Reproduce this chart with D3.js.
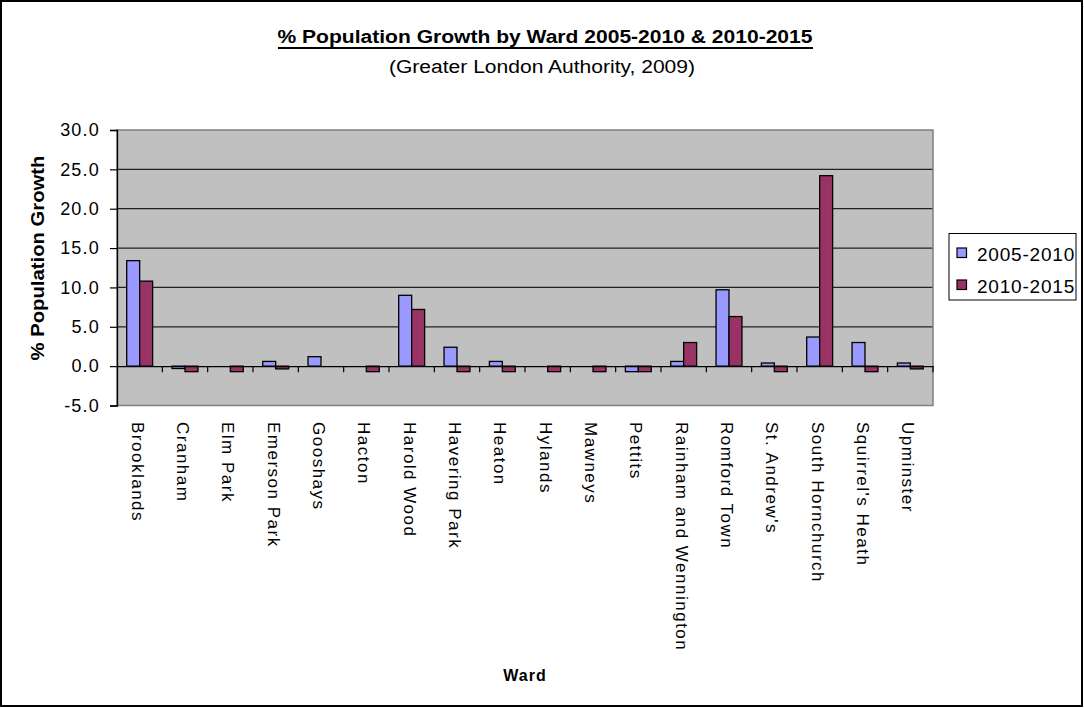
<!DOCTYPE html>
<html><head><meta charset="utf-8">
<script src="https://cdn.jsdelivr.net/npm/d3@7"></script>
<style>
html,body{margin:0;padding:0;background:#fff;}
svg{display:block;font-family:"Liberation Sans",Arial,sans-serif;}
</style></head>
<body>
<svg id="c" width="1084" height="708"></svg>
<script>
const categories = ["Brooklands","Cranham","Elm Park","Emerson Park","Gooshays","Hacton","Harold Wood","Havering Park","Heaton","Hylands","Mawneys","Pettits","Rainham and Wennington","Romford Town","St. Andrew's","South Hornchurch","Squirrel's Heath","Upminster"];
const seriesNames = ["2005-2010","2010-2015"];
const growth2005_2010 = [13.4,-0.3,0,0.6,1.2,0,9.0,2.4,0.6,0,0,-0.7,0.6,9.7,0.4,3.7,3.0,0.4];
const growth2010_2015 = [10.8,-0.7,-0.7,-0.35,0,-0.7,7.2,-0.7,-0.7,-0.7,-0.7,-0.7,3.0,6.3,-0.7,24.2,-0.7,-0.35];
const yTicks = [-5,0,5,10,15,20,25,30];
const colors = ["#9999FF","#993366"];

const svg = d3.select("#c");
const L=117, R=933, T=130, B=405.5;

// outer frame
svg.append("rect").attr("x",1).attr("y",1).attr("width",1081).attr("height",705)
  .attr("fill","#fff").attr("stroke","#000").attr("stroke-width",2);

const x0 = d3.scaleBand().domain(categories).range([L,R]).padding(0);
const x1 = d3.scaleBand().domain(seriesNames).range([0,x0.bandwidth()]).paddingInner(0).paddingOuter(0.75);
const y = d3.scaleLinear().domain([-5,30]).range([B,T]);

// plot area
svg.append("rect").attr("x",L).attr("y",T).attr("width",R-L).attr("height",B-T)
  .attr("fill","#C0C0C0");
// gridlines
svg.append("g").selectAll("line").data(yTicks.filter(v=>v!==-5 && v!==30 && v!==0)).join("line")
  .attr("x1",L).attr("x2",R).attr("y1",d=>y(d)).attr("y2",d=>y(d))
  .attr("stroke","#222").attr("stroke-width",1.2);
svg.append("rect").attr("x",L).attr("y",T).attr("width",R-L).attr("height",B-T)
  .attr("fill","none").attr("stroke","#808080").attr("stroke-width",1.5);

// bars
const data = categories.map((c,i)=>({c, vals:[growth2005_2010[i],growth2010_2015[i]]}));
const g = svg.append("g");
data.forEach(d=>{
  d.vals.forEach((v,j)=>{
    const s = seriesNames[j];
    g.append("rect")
      .attr("x",x0(d.c)+x1(s)).attr("width",x1.bandwidth())
      .attr("y",y(Math.max(0,v))).attr("height",Math.abs(y(v)-y(0)))
      .attr("fill",colors[j]).attr("stroke","#000").attr("stroke-width",1.3);
  });
});

// y axis
const yAxis = d3.axisLeft(y).tickValues(yTicks).tickFormat(d=>d.toFixed(1)).tickSize(7).tickPadding(10);
const ya = svg.append("g").attr("transform",`translate(${L},0)`).call(yAxis);
ya.select(".domain").attr("stroke","#000").attr("stroke-width",1.3);
ya.selectAll(".tick line").attr("stroke","#000").attr("stroke-width",1.2);
ya.selectAll(".tick text").attr("font-size",18).attr("fill","#000").attr("letter-spacing","1.2px")
  .attr("font-family","Liberation Sans, Arial, sans-serif");

// x axis at zero
const xAxis = d3.axisBottom(x0).tickSize(0).tickFormat("");
const xa = svg.append("g").attr("transform",`translate(0,${y(0)})`).call(xAxis);
xa.select(".domain").attr("stroke","#000").attr("stroke-width",1.3);
// category boundary ticks
svg.append("g").selectAll("line").data(categories.slice(1)).join("line")
  .attr("x1",d=>x0(d)).attr("x2",d=>x0(d)).attr("y1",y(0)).attr("y2",y(0)+6)
  .attr("stroke","#000").attr("stroke-width",1.2);
svg.append("line").attr("x1",R).attr("x2",R).attr("y1",y(0)).attr("y2",y(0)+6).attr("stroke","#000").attr("stroke-width",1.2);

// category labels
svg.append("g").selectAll("text").data(categories).join("text")
  .attr("transform",d=>`translate(${x0(d)+x0.bandwidth()/2-8},422) rotate(90)`)
  .attr("font-size",17).attr("letter-spacing","1.5px").attr("fill","#000")
  .text(d=>d);

// titles
svg.append("text").attr("x",545).attr("y",43).attr("text-anchor","middle")
  .attr("font-size",18).attr("font-weight","bold").attr("textLength",535).attr("lengthAdjust","spacingAndGlyphs")
  .text("% Population Growth by Ward 2005-2010 & 2010-2015");
svg.append("line").attr("x1",278).attr("x2",813).attr("y1",48).attr("y2",48).attr("stroke","#000").attr("stroke-width",2);
svg.append("text").attr("x",542).attr("y",73).attr("text-anchor","middle")
  .attr("font-size",18).attr("textLength",306).attr("lengthAdjust","spacingAndGlyphs")
  .text("(Greater London Authority, 2009)");

svg.append("text").attr("transform","translate(44,258) rotate(-90)").attr("text-anchor","middle")
  .attr("font-size",18).attr("font-weight","bold").attr("textLength",205).attr("lengthAdjust","spacingAndGlyphs")
  .text("% Population Growth");
svg.append("text").attr("x",525).attr("y",681).attr("text-anchor","middle")
  .attr("font-size",16).attr("font-weight","bold").attr("letter-spacing","1px")
  .text("Ward");

// legend
const lg = svg.append("g");
lg.append("rect").attr("x",949).attr("y",233.5).attr("width",127).attr("height",66.5)
  .attr("fill","#fff").attr("stroke","#000").attr("stroke-width",1);
seriesNames.forEach((s,i)=>{
  const yy = 248 + i*32;
  lg.append("rect").attr("x",957).attr("y",yy).attr("width",9.5).attr("height",9.5)
    .attr("fill",colors[i]).attr("stroke","#000").attr("stroke-width",1.2);
  lg.append("text").attr("x",977).attr("y",yy+12.5).attr("font-size",19).attr("letter-spacing","0.8px").text(s);
});
</script>
</body></html>
